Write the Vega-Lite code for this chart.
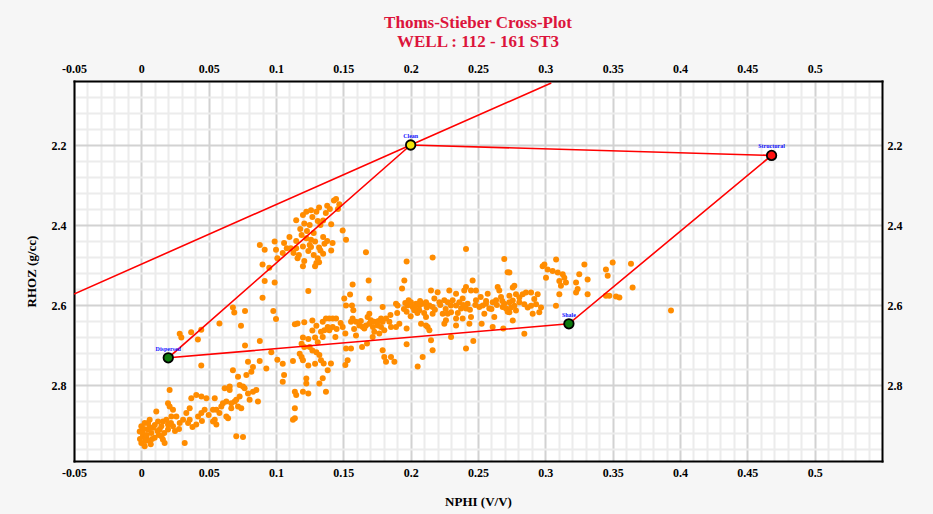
{
  "$schema": "https://vega.github.io/schema/vega-lite/v6.json",
  "width": 808,
  "height": 380,
  "autosize": {"type": "none"},
  "padding": {"left": 74, "top": 81, "right": 51, "bottom": 53},
  "background": "#f6f6f6",
  "config": {
    "view": {"stroke": null, "fill": "white"},
    "font": "Liberation Serif",
    "axis": {
      "domain": true,
      "domainColor": "black",
      "domainWidth": 2,
      "domainCap": "square",
      "ticks": false,
      "labelFont": "Liberation Serif",
      "labelFontWeight": "bold",
      "labelFontSize": 12,
      "labelColor": "black",
      "labelOverlap": false,
      "labelFlush": false,
      "titleFont": "Liberation Serif",
      "titleFontWeight": "bold",
      "titleFontSize": 13,
      "titleColor": "black"
    }
  },
  "title": {
    "text": ["Thoms-Stieber Cross-Plot", "WELL :  112 - 161 ST3"],
    "color": "#dc143c",
    "font": "Liberation Serif",
    "fontWeight": "bold",
    "fontSize": 17,
    "lineHeight": 19,
    "anchor": "middle",
    "offset": 11
  },
  "datasets": {
    "pts": [
      {"nphi":0.115,"rhoz":2.388},{"nphi":0.12,"rhoz":2.375},{"nphi":0.1225,"rhoz":2.367},{"nphi":0.126,"rhoz":2.363},{"nphi":0.13,"rhoz":2.367},
      {"nphi":0.121,"rhoz":2.396},{"nphi":0.125,"rhoz":2.4},{"nphi":0.119,"rhoz":2.425},{"nphi":0.1225,"rhoz":2.433},{"nphi":0.126,"rhoz":2.437},
      {"nphi":0.129,"rhoz":2.441},{"nphi":0.125,"rhoz":2.45},{"nphi":0.12,"rhoz":2.454},{"nphi":0.115,"rhoz":2.458},{"nphi":0.113,"rhoz":2.47},
      {"nphi":0.116,"rhoz":2.483},{"nphi":0.12,"rhoz":2.503},{"nphi":0.13,"rhoz":2.495},{"nphi":0.129,"rhoz":2.503},{"nphi":0.131,"rhoz":2.483},
      {"nphi":0.111,"rhoz":2.458},{"nphi":0.108,"rhoz":2.458},{"nphi":0.106,"rhoz":2.445},{"nphi":0.099,"rhoz":2.441},{"nphi":0.1,"rhoz":2.462},
      {"nphi":0.101,"rhoz":2.483},{"nphi":0.095,"rhoz":2.507},{"nphi":0.09,"rhoz":2.499},{"nphi":0.088,"rhoz":2.45},{"nphi":0.0916,"rhoz":2.462},
      {"nphi":0.0916,"rhoz":2.54},{"nphi":0.099,"rhoz":2.544},{"nphi":0.124,"rhoz":2.565},{"nphi":0.09,"rhoz":2.582},{"nphi":0.098,"rhoz":2.615},
      {"nphi":0.1,"rhoz":2.635},
      {"nphi":0.132,"rhoz":2.356},{"nphi":0.138,"rhoz":2.352},{"nphi":0.143,"rhoz":2.339},{"nphi":0.1446,"rhoz":2.335},{"nphi":0.147,"rhoz":2.348},
      {"nphi":0.141,"rhoz":2.398},{"nphi":0.135,"rhoz":2.389},{"nphi":0.136,"rhoz":2.447},{"nphi":0.132,"rhoz":2.456},{"nphi":0.133,"rhoz":2.464},
      {"nphi":0.135,"rhoz":2.472},{"nphi":0.141,"rhoz":2.464},{"nphi":0.132,"rhoz":2.493},{"nphi":0.1495,"rhoz":2.414},{"nphi":0.152,"rhoz":2.437},
      {"nphi":0.118,"rhoz":2.41},{"nphi":0.123,"rhoz":2.415},{"nphi":0.128,"rhoz":2.42},{"nphi":0.133,"rhoz":2.4},{"nphi":0.137,"rhoz":2.37},
      {"nphi":0.14,"rhoz":2.36},{"nphi":0.127,"rhoz":2.38},{"nphi":0.131,"rhoz":2.39},{"nphi":0.115,"rhoz":2.44},{"nphi":0.11,"rhoz":2.43},
      {"nphi":0.124,"rhoz":2.465},{"nphi":0.128,"rhoz":2.475},{"nphi":0.135,"rhoz":2.43},{"nphi":0.138,"rhoz":2.44},{"nphi":0.142,"rhoz":2.445},
      {"nphi":0.117,"rhoz":2.475},{"nphi":0.105,"rhoz":2.47},{"nphi":0.121,"rhoz":2.49},{"nphi":0.126,"rhoz":2.455},{"nphi":0.146,"rhoz":2.36},
      {"nphi":0.068,"rhoz":2.606},{"nphi":0.069,"rhoz":2.619},{"nphi":0.077,"rhoz":2.615},{"nphi":0.074,"rhoz":2.652},{"nphi":0.058,"rhoz":2.646},
      {"nphi":0.0285,"rhoz":2.672},{"nphi":0.0297,"rhoz":2.681},{"nphi":0.037,"rhoz":2.668},{"nphi":0.042,"rhoz":2.686},{"nphi":0.0445,"rhoz":2.662},
      {"nphi":0.077,"rhoz":2.701},{"nphi":0.088,"rhoz":2.69},{"nphi":0.0445,"rhoz":2.751},{"nphi":0.0965,"rhoz":2.718},
      {"nphi":0.114,"rhoz":2.648},{"nphi":0.116,"rhoz":2.646},{"nphi":0.121,"rhoz":2.643},{"nphi":0.127,"rhoz":2.639},{"nphi":0.13,"rhoz":2.652},
      {"nphi":0.127,"rhoz":2.664},{"nphi":0.12,"rhoz":2.681},{"nphi":0.124,"rhoz":2.685},{"nphi":0.129,"rhoz":2.681},{"nphi":0.131,"rhoz":2.693},
      {"nphi":0.119,"rhoz":2.697},{"nphi":0.121,"rhoz":2.705},{"nphi":0.125,"rhoz":2.705},{"nphi":0.127,"rhoz":2.714},{"nphi":0.13,"rhoz":2.718},
      {"nphi":0.1176,"rhoz":2.722},{"nphi":0.119,"rhoz":2.73},{"nphi":0.12,"rhoz":2.738},{"nphi":0.124,"rhoz":2.751},{"nphi":0.129,"rhoz":2.747},
      {"nphi":0.1126,"rhoz":2.74},{"nphi":0.105,"rhoz":2.747},{"nphi":0.101,"rhoz":2.737},{"nphi":0.106,"rhoz":2.775},{"nphi":0.105,"rhoz":2.792},
      {"nphi":0.1225,"rhoz":2.784},{"nphi":0.1225,"rhoz":2.796},{"nphi":0.114,"rhoz":2.817},{"nphi":0.115,"rhoz":2.825},{"nphi":0.12,"rhoz":2.817},
      {"nphi":0.124,"rhoz":2.821},{"nphi":0.114,"rhoz":2.858},{"nphi":0.1126,"rhoz":2.887},{"nphi":0.114,"rhoz":2.883},
      {"nphi":0.021,"rhoz":2.8125},{"nphi":0.0198,"rhoz":2.8455},{"nphi":0.021,"rhoz":2.854},{"nphi":0.0235,"rhoz":2.862},{"nphi":0.0223,"rhoz":2.8785},
      {"nphi":0.0186,"rhoz":2.887},{"nphi":0.016,"rhoz":2.891},{"nphi":0.0124,"rhoz":2.891},{"nphi":0.0111,"rhoz":2.866},{"nphi":0.0087,"rhoz":2.907},
      {"nphi":0.0062,"rhoz":2.887},{"nphi":0.0025,"rhoz":2.895},{"nphi":0.0,"rhoz":2.903},{"nphi":-0.0012,"rhoz":2.916},{"nphi":0.0012,"rhoz":2.928},
      {"nphi":0.0,"rhoz":2.945},{"nphi":0.0025,"rhoz":2.953},{"nphi":0.0062,"rhoz":2.94},{"nphi":0.0099,"rhoz":2.932},{"nphi":0.0149,"rhoz":2.928},
      {"nphi":0.016,"rhoz":2.936},{"nphi":0.0173,"rhoz":2.945},{"nphi":0.0198,"rhoz":2.911},{"nphi":0.0235,"rhoz":2.903},{"nphi":0.0285,"rhoz":2.895},
      {"nphi":0.031,"rhoz":2.887},{"nphi":0.0334,"rhoz":2.87},{"nphi":0.0359,"rhoz":2.858},{"nphi":0.0371,"rhoz":2.833},{"nphi":0.0408,"rhoz":2.825},
      {"nphi":0.0446,"rhoz":2.829},{"nphi":0.0483,"rhoz":2.833},{"nphi":0.0545,"rhoz":2.833},{"nphi":0.0532,"rhoz":2.862},{"nphi":0.0557,"rhoz":2.862},
      {"nphi":0.0594,"rhoz":2.854},{"nphi":0.0606,"rhoz":2.8455},{"nphi":0.0631,"rhoz":2.841},{"nphi":0.0656,"rhoz":2.8125},{"nphi":0.0668,"rhoz":2.8455},
      {"nphi":0.0693,"rhoz":2.841},{"nphi":0.0705,"rhoz":2.837},{"nphi":0.073,"rhoz":2.829},{"nphi":0.0755,"rhoz":2.804},{"nphi":0.0767,"rhoz":2.808},
      {"nphi":0.0792,"rhoz":2.821},{"nphi":0.0804,"rhoz":2.837},{"nphi":0.0829,"rhoz":2.817},{"nphi":0.0854,"rhoz":2.8125},{"nphi":0.0866,"rhoz":2.841},
      {"nphi":0.0742,"rhoz":2.858},{"nphi":0.0718,"rhoz":2.854},{"nphi":0.0668,"rhoz":2.858},{"nphi":0.0631,"rhoz":2.8785},{"nphi":0.0644,"rhoz":2.883},
      {"nphi":0.0545,"rhoz":2.887},{"nphi":0.0532,"rhoz":2.891},{"nphi":0.0421,"rhoz":2.8785},{"nphi":0.0408,"rhoz":2.899},{"nphi":0.0322,"rhoz":2.945},
      {"nphi":0.0705,"rhoz":2.928},{"nphi":0.0755,"rhoz":2.93},{"nphi":0.068,"rhoz":2.763},{"nphi":0.0718,"rhoz":2.7795},{"nphi":0.073,"rhoz":2.8},
      {"nphi":0.078,"rhoz":2.775},{"nphi":0.0817,"rhoz":2.767},{"nphi":0.0829,"rhoz":2.755},{"nphi":0.0792,"rhoz":2.742},{"nphi":0.0879,"rhoz":2.74},
      {"nphi":0.0928,"rhoz":2.759},{"nphi":0.0656,"rhoz":2.804},{"nphi":0.0619,"rhoz":2.808},{"nphi":0.047,"rhoz":2.862},{"nphi":0.0359,"rhoz":2.887},
      {"nphi":0.026,"rhoz":2.8785},{"nphi":0.0149,"rhoz":2.903},{"nphi":0.0136,"rhoz":2.911},{"nphi":0.0037,"rhoz":2.932},{"nphi":0.005,"rhoz":2.911},
      {"nphi":0.0074,"rhoz":2.92},{"nphi":0.0198,"rhoz":2.899},{"nphi":0.0446,"rhoz":2.87},{"nphi":0.0557,"rhoz":2.899},{"nphi":0.0347,"rhoz":2.895},
      {"nphi":0.002,"rhoz":2.91},{"nphi":0.004,"rhoz":2.925},{"nphi":0.006,"rhoz":2.905},{"nphi":0.008,"rhoz":2.935},{"nphi":0.003,"rhoz":2.94},
      {"nphi":0.001,"rhoz":2.92},{"nphi":0.005,"rhoz":2.895},{"nphi":0.01,"rhoz":2.9},{"nphi":0.012,"rhoz":2.915},{"nphi":-0.001,"rhoz":2.935},
      {"nphi":0.007,"rhoz":2.948},{"nphi":0.013,"rhoz":2.925},{"nphi":0.017,"rhoz":2.92},{"nphi":0.025,"rhoz":2.915},{"nphi":0.028,"rhoz":2.91},
      {"nphi":0.022,"rhoz":2.895},{"nphi":0.045,"rhoz":2.89},{"nphi":0.05,"rhoz":2.875},{"nphi":0.058,"rhoz":2.87},{"nphi":0.038,"rhoz":2.905},
      {"nphi":0.1668,"rhoz":2.468},{"nphi":0.1688,"rhoz":2.539},{"nphi":0.1569,"rhoz":2.549},{"nphi":0.155,"rhoz":2.574},{"nphi":0.1507,"rhoz":2.584},
      {"nphi":0.152,"rhoz":2.601},{"nphi":0.1564,"rhoz":2.601},{"nphi":0.1574,"rhoz":2.613},{"nphi":0.1569,"rhoz":2.634},{"nphi":0.1557,"rhoz":2.642},
      {"nphi":0.1594,"rhoz":2.642},{"nphi":0.1619,"rhoz":2.651},{"nphi":0.1644,"rhoz":2.655},{"nphi":0.1668,"rhoz":2.651},{"nphi":0.1693,"rhoz":2.647},
      {"nphi":0.1705,"rhoz":2.638},{"nphi":0.173,"rhoz":2.642},{"nphi":0.1693,"rhoz":2.622},{"nphi":0.1693,"rhoz":2.584},{"nphi":0.1792,"rhoz":2.605},
      {"nphi":0.178,"rhoz":2.634},{"nphi":0.1755,"rhoz":2.651},{"nphi":0.178,"rhoz":2.655},{"nphi":0.1792,"rhoz":2.642},{"nphi":0.1817,"rhoz":2.634},
      {"nphi":0.1842,"rhoz":2.642},{"nphi":0.1854,"rhoz":2.655},{"nphi":0.1804,"rhoz":2.663},{"nphi":0.1767,"rhoz":2.671},{"nphi":0.173,"rhoz":2.667},
      {"nphi":0.1718,"rhoz":2.68},{"nphi":0.1656,"rhoz":2.659},{"nphi":0.1594,"rhoz":2.676},{"nphi":0.1515,"rhoz":2.671},{"nphi":0.1495,"rhoz":2.655},
      {"nphi":0.1446,"rhoz":2.634},{"nphi":0.1421,"rhoz":2.634},{"nphi":0.1396,"rhoz":2.634},{"nphi":0.1371,"rhoz":2.634},{"nphi":0.1347,"rhoz":2.642},
      {"nphi":0.1384,"rhoz":2.655},{"nphi":0.1421,"rhoz":2.655},{"nphi":0.1396,"rhoz":2.663},{"nphi":0.1359,"rhoz":2.663},{"nphi":0.1334,"rhoz":2.667},
      {"nphi":0.1347,"rhoz":2.68},{"nphi":0.1441,"rhoz":2.68},{"nphi":0.152,"rhoz":2.709},{"nphi":0.1557,"rhoz":2.709},{"nphi":0.1639,"rhoz":2.705},
      {"nphi":0.1676,"rhoz":2.696},{"nphi":0.1532,"rhoz":2.738},{"nphi":0.1515,"rhoz":2.75},{"nphi":0.1792,"rhoz":2.713},{"nphi":0.1804,"rhoz":2.73},
      {"nphi":0.1817,"rhoz":2.742},{"nphi":0.1854,"rhoz":2.73},{"nphi":0.1879,"rhoz":2.742},{"nphi":0.1891,"rhoz":2.655},{"nphi":0.1916,"rhoz":2.647},
      {"nphi":0.1903,"rhoz":2.601},{"nphi":0.1891,"rhoz":2.597},{"nphi":0.1936,"rhoz":2.559},{"nphi":0.1953,"rhoz":2.539},{"nphi":0.197,"rhoz":2.491},
      {"nphi":0.1985,"rhoz":2.588},{"nphi":0.1978,"rhoz":2.601},{"nphi":0.2002,"rhoz":2.593},{"nphi":0.2015,"rhoz":2.605},{"nphi":0.204,"rhoz":2.597},
      {"nphi":0.2064,"rhoz":2.601},{"nphi":0.2089,"rhoz":2.597},{"nphi":0.2114,"rhoz":2.593},{"nphi":0.2139,"rhoz":2.601},{"nphi":0.2163,"rhoz":2.605},
      {"nphi":0.2176,"rhoz":2.584},{"nphi":0.2151,"rhoz":2.564},{"nphi":0.22,"rhoz":2.568},{"nphi":0.2213,"rhoz":2.593},{"nphi":0.2238,"rhoz":2.622},
      {"nphi":0.2275,"rhoz":2.622},{"nphi":0.2262,"rhoz":2.638},{"nphi":0.225,"rhoz":2.588},{"nphi":0.2287,"rhoz":2.564},{"nphi":0.2312,"rhoz":2.588},
      {"nphi":0.2337,"rhoz":2.601},{"nphi":0.2361,"rhoz":2.593},{"nphi":0.2386,"rhoz":2.584},{"nphi":0.2398,"rhoz":2.564},{"nphi":0.2411,"rhoz":2.555},
      {"nphi":0.2423,"rhoz":2.597},{"nphi":0.2448,"rhoz":2.564},{"nphi":0.246,"rhoz":2.539},{"nphi":0.2485,"rhoz":2.588},{"nphi":0.251,"rhoz":2.605},
      {"nphi":0.2535,"rhoz":2.601},{"nphi":0.2547,"rhoz":2.622},{"nphi":0.2572,"rhoz":2.572},{"nphi":0.2584,"rhoz":2.609},{"nphi":0.2609,"rhoz":2.593},
      {"nphi":0.2621,"rhoz":2.63},{"nphi":0.2646,"rhoz":2.555},{"nphi":0.2658,"rhoz":2.564},{"nphi":0.2671,"rhoz":2.58},{"nphi":0.2695,"rhoz":2.597},
      {"nphi":0.2708,"rhoz":2.609},{"nphi":0.272,"rhoz":2.617},{"nphi":0.2163,"rhoz":2.481},{"nphi":0.2411,"rhoz":2.46},{"nphi":0.2695,"rhoz":2.485},
      {"nphi":0.272,"rhoz":2.518},{"nphi":0.197,"rhoz":2.617},{"nphi":0.197,"rhoz":2.659},{"nphi":0.197,"rhoz":2.698},{"nphi":0.2064,"rhoz":2.613},
      {"nphi":0.2077,"rhoz":2.647},{"nphi":0.2114,"rhoz":2.651},{"nphi":0.2126,"rhoz":2.655},{"nphi":0.2139,"rhoz":2.663},{"nphi":0.2151,"rhoz":2.688},
      {"nphi":0.2163,"rhoz":2.713},{"nphi":0.2089,"rhoz":2.73},{"nphi":0.2052,"rhoz":2.754},{"nphi":0.23,"rhoz":2.68},{"nphi":0.2411,"rhoz":2.709},
      {"nphi":0.2465,"rhoz":2.69},{"nphi":0.2527,"rhoz":2.647},{"nphi":0.2609,"rhoz":2.655},{"nphi":0.2688,"rhoz":2.659},{"nphi":0.2448,"rhoz":2.63},
      {"nphi":0.2386,"rhoz":2.634},{"nphi":0.2337,"rhoz":2.634},{"nphi":0.2163,"rhoz":2.622},{"nphi":0.2114,"rhoz":2.63},{"nphi":0.2027,"rhoz":2.613},
      {"nphi":0.2299,"rhoz":2.601},{"nphi":0.2411,"rhoz":2.609},{"nphi":0.2374,"rhoz":2.609},{"nphi":0.2275,"rhoz":2.593},{"nphi":0.2337,"rhoz":2.572},
      {"nphi":0.2485,"rhoz":2.564},{"nphi":0.2559,"rhoz":2.597},{"nphi":0.2634,"rhoz":2.588},{"nphi":0.2683,"rhoz":2.605},{"nphi":0.2436,"rhoz":2.647},
      {"nphi":0.2337,"rhoz":2.651},{"nphi":0.225,"rhoz":2.647},{"nphi":0.1354,"rhoz":2.746},{"nphi":0.1384,"rhoz":2.763},{"nphi":0.1347,"rhoz":2.783},
      {"nphi":0.1371,"rhoz":2.817},{"nphi":0.1322,"rhoz":2.725},{"nphi":0.1334,"rhoz":2.738},{"nphi":0.1408,"rhoz":2.746},{"nphi":0.1322,"rhoz":2.796},
      {"nphi":0.203,"rhoz":2.607},{"nphi":0.207,"rhoz":2.59},{"nphi":0.212,"rhoz":2.606},{"nphi":0.218,"rhoz":2.612},{"nphi":0.222,"rhoz":2.6},
      {"nphi":0.226,"rhoz":2.61},{"nphi":0.23,"rhoz":2.618},{"nphi":0.235,"rhoz":2.62},{"nphi":0.239,"rhoz":2.6},{"nphi":0.244,"rhoz":2.612},
      {"nphi":0.248,"rhoz":2.6},{"nphi":0.252,"rhoz":2.58},{"nphi":0.256,"rhoz":2.59},{"nphi":0.26,"rhoz":2.61},{"nphi":0.264,"rhoz":2.6},
      {"nphi":0.268,"rhoz":2.59},{"nphi":0.205,"rhoz":2.62},{"nphi":0.195,"rhoz":2.61},{"nphi":0.19,"rhoz":2.62},{"nphi":0.185,"rhoz":2.625},
      {"nphi":0.172,"rhoz":2.655},{"nphi":0.168,"rhoz":2.63},{"nphi":0.163,"rhoz":2.64},{"nphi":0.158,"rhoz":2.66},{"nphi":0.148,"rhoz":2.645},
      {"nphi":0.145,"rhoz":2.66},{"nphi":0.176,"rhoz":2.64},{"nphi":0.2,"rhoz":2.628},{"nphi":0.21,"rhoz":2.62},{"nphi":0.196,"rhoz":2.595},
      {"nphi":0.2733,"rhoz":2.519},{"nphi":0.2758,"rhoz":2.556},{"nphi":0.277,"rhoz":2.552},{"nphi":0.2733,"rhoz":2.577},{"nphi":0.2733,"rhoz":2.593},
      {"nphi":0.2758,"rhoz":2.589},{"nphi":0.277,"rhoz":2.602},{"nphi":0.2733,"rhoz":2.618},{"nphi":0.2758,"rhoz":2.639},{"nphi":0.2782,"rhoz":2.614},
      {"nphi":0.2807,"rhoz":2.593},{"nphi":0.2832,"rhoz":2.573},{"nphi":0.2856,"rhoz":2.569},{"nphi":0.2844,"rhoz":2.598},{"nphi":0.2869,"rhoz":2.606},
      {"nphi":0.2894,"rhoz":2.602},{"nphi":0.2906,"rhoz":2.622},{"nphi":0.2918,"rhoz":2.585},{"nphi":0.2943,"rhoz":2.573},{"nphi":0.2931,"rhoz":2.598},
      {"nphi":0.2955,"rhoz":2.618},{"nphi":0.2968,"rhoz":2.606},{"nphi":0.2844,"rhoz":2.672},{"nphi":0.2894,"rhoz":2.569},{"nphi":0.2807,"rhoz":2.581},
      {"nphi":0.2782,"rhoz":2.573},{"nphi":0.2745,"rhoz":2.606},
      {"nphi":0.308,"rhoz":2.486},{"nphi":0.298,"rhoz":2.503},{"nphi":0.2993,"rhoz":2.499},{"nphi":0.3017,"rhoz":2.511},{"nphi":0.3054,"rhoz":2.515},
      {"nphi":0.3092,"rhoz":2.519},{"nphi":0.3129,"rhoz":2.523},{"nphi":0.3141,"rhoz":2.532},{"nphi":0.3153,"rhoz":2.544},{"nphi":0.3104,"rhoz":2.54},
      {"nphi":0.3116,"rhoz":2.552},{"nphi":0.3005,"rhoz":2.532},{"nphi":0.3104,"rhoz":2.573},{"nphi":0.3079,"rhoz":2.602},{"nphi":0.3252,"rhoz":2.523},
      {"nphi":0.3228,"rhoz":2.544},{"nphi":0.324,"rhoz":2.56},{"nphi":0.3228,"rhoz":2.569},{"nphi":0.329,"rhoz":2.499},{"nphi":0.3314,"rhoz":2.536},
      {"nphi":0.3314,"rhoz":2.573},{"nphi":0.345,"rhoz":2.511},{"nphi":0.3463,"rhoz":2.527},{"nphi":0.35,"rhoz":2.494},{"nphi":0.345,"rhoz":2.577},
      {"nphi":0.3475,"rhoz":2.577},{"nphi":0.3525,"rhoz":2.579},{"nphi":0.355,"rhoz":2.581},{"nphi":0.3636,"rhoz":2.497},{"nphi":0.3648,"rhoz":2.556},
      {"nphi":0.3933,"rhoz":2.614}
    ],
    "lines": [
      {"line":"poly","ord":1,"nphi":0.2,"rhoz":2.2},
      {"line":"poly","ord":2,"nphi":0.468,"rhoz":2.226},
      {"line":"poly","ord":3,"nphi":0.3175,"rhoz":2.647},
      {"line":"poly","ord":4,"nphi":0.02,"rhoz":2.732},
      {"line":"poly","ord":5,"nphi":0.2,"rhoz":2.2},
      {"line":"matrix","ord":1,"nphi":-0.05,"rhoz":2.5725},
      {"line":"matrix","ord":2,"nphi":0.2,"rhoz":2.2},
      {"line":"matrix","ord":3,"nphi":0.3044,"rhoz":2.045}
    ],
    "ends": [
      {"name":"Clean","nphi":0.2,"rhoz":2.2,"fill":"#f2e30c"},
      {"name":"Structural","nphi":0.468,"rhoz":2.226,"fill":"#ff1010"},
      {"name":"Shale","nphi":0.3175,"rhoz":2.647,"fill":"#0d7a0d"},
      {"name":"Dispersed","nphi":0.02,"rhoz":2.732,"fill":"#0d7a0d"}
    ]
  },
  "resolve": {"axis": {"x": "independent", "y": "independent"}},
  "layer": [
    {
      "data": {"name": "pts"},
      "mark": {"type": "circle", "size": 36, "color": "#ff8c00", "opacity": 1},
      "encoding": {
        "x": {
          "field": "nphi", "type": "quantitative",
          "scale": {"domain": [-0.05, 0.55], "nice": false, "zero": false},
          "axis": {
            "orient": "bottom",
            "title": "NPHI (V/V)",
            "titlePadding": 17,
            "labelPadding": 6,
            "values": [-0.05,-0.04,-0.03,-0.02,-0.01,0,0.01,0.02,0.03,0.04,0.05,0.06,0.07,0.08,0.09,0.1,0.11,0.12,0.13,0.14,0.15,0.16,0.17,0.18,0.19,0.2,0.21,0.22,0.23,0.24,0.25,0.26,0.27,0.28,0.29,0.3,0.31,0.32,0.33,0.34,0.35,0.36,0.37,0.38,0.39,0.4,0.41,0.42,0.43,0.44,0.45,0.46,0.47,0.48,0.49,0.5,0.51,0.52,0.53,0.54],
            "labelExpr": "abs(round(datum.value*100)%5)==0 && datum.value<0.52 ? (datum.value<0 ? '-0.05' : format(datum.value,'.2~f')) : ''",
            "grid": true,
            "gridWidth": 2,
            "gridColor": {"condition": {"test": "abs(round(datum.value*100)%5)==0", "value": "#d2d2d2"}, "value": "#ececec"}
          }
        },
        "y": {
          "field": "rhoz", "type": "quantitative",
          "scale": {"domain": [2.04, 2.99], "nice": false, "zero": false, "reverse": true},
          "axis": {
            "orient": "left",
            "title": "RHOZ (g/cc)",
            "titlePadding": 13,
            "labelPadding": 8,
            "values": [2.04,2.08,2.12,2.16,2.2,2.24,2.28,2.32,2.36,2.4,2.44,2.48,2.52,2.56,2.6,2.64,2.68,2.72,2.76,2.8,2.84,2.88,2.92,2.96],
            "labelExpr": "abs(round(datum.value*100)%20)==0 ? format(datum.value,'.1f') : ''",
            "grid": true,
            "gridWidth": 2,
            "gridColor": {"condition": {"test": "abs(round(datum.value*100)%20)==0", "value": "#d2d2d2"}, "value": "#ececec"}
          }
        }
      }
    },
    {
      "data": {"name": "lines"},
      "mark": {"type": "line", "color": "#ff0000", "strokeWidth": 1.6, "clip": true},
      "encoding": {
        "x": {
          "field": "nphi", "type": "quantitative",
          "scale": {"domain": [-0.05, 0.55], "nice": false, "zero": false},
          "axis": {
            "orient": "top",
            "title": null,
            "grid": false,
            "labelPadding": 6,
            "values": [-0.05,0,0.05,0.1,0.15,0.2,0.25,0.3,0.35,0.4,0.45,0.5],
            "labelExpr": "datum.value<0 ? '-0.05' : format(datum.value,'.2~f')"
          }
        },
        "y": {
          "field": "rhoz", "type": "quantitative",
          "scale": {"domain": [2.04, 2.99], "nice": false, "zero": false, "reverse": true},
          "axis": {
            "orient": "right",
            "title": null,
            "grid": false,
            "labelPadding": 5,
            "values": [2.2,2.4,2.6,2.8],
            "labelExpr": "format(datum.value,'.1f')"
          }
        },
        "detail": {"field": "line"},
        "order": {"field": "ord", "type": "quantitative"}
      }
    },
    {
      "data": {"name": "ends"},
      "mark": {"type": "circle", "size": 90, "opacity": 1, "stroke": "black", "strokeWidth": 1.8},
      "encoding": {
        "x": {"field": "nphi", "type": "quantitative", "axis": null},
        "y": {"field": "rhoz", "type": "quantitative", "axis": null},
        "fill": {"field": "fill", "type": "nominal", "scale": null}
      }
    },
    {
      "data": {"name": "ends"},
      "mark": {"type": "text", "color": "#1010ff", "fontSize": 6, "fontWeight": "bold", "font": "Liberation Serif", "dy": -9},
      "encoding": {
        "x": {"field": "nphi", "type": "quantitative", "axis": null},
        "y": {"field": "rhoz", "type": "quantitative", "axis": null},
        "text": {"field": "name"}
      }
    }
  ]
}
